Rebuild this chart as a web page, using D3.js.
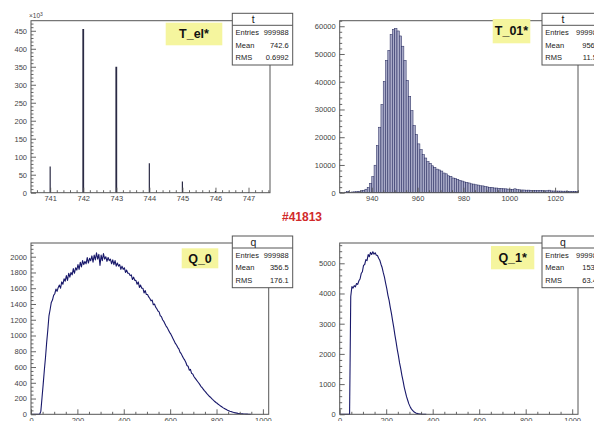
<!DOCTYPE html>
<html><head><meta charset="utf-8">
<script src="https://cdn.jsdelivr.net/npm/d3@7"></script>
<style>html,body{margin:0;padding:0;background:#fff;} svg{display:block;font-family:"Liberation Sans",Arial,Helvetica,sans-serif;}</style>
</head><body><svg id="c" width="594" height="421"></svg>
<script>
// ---------------- DATA ----------------
// Panel 1: T_el* (counts per bin)
const tElCats = [741, 742, 743, 744, 745, 746, 747];
const tElCounts = [73000, 455000, 350000, 82000, 31000, 5000, 1500];

// Panel 2: T_01* (bin width 1, first bin 926)
const t01Start = 926;
const t01Counts = [120,0,180,420,150,260,310,380,520,690,
  880,1250,1900,3300,5800,9900,17000,23600,31800,40100,
  47700,51300,57000,58800,59200,58300,56500,52800,47700,40500,
  34700,29600,24200,21000,17600,15500,13700,12500,11200,10600,
  9700,9100,8500,8200,7800,7100,6800,6100,5900,5300,
  5100,4800,4400,4200,3900,3700,3500,3200,3100,2850,
  2750,2500,2450,2200,2100,1950,1880,1700,1680,1560,
  1520,1420,1400,1300,1250,1180,1400,1080,1050,980,
  960,900,920,850,840,790,800,740,730,690,
  710,900,650,620,600,580,580,540,550,510,
  520,480,500,470];

// Panel 3: Q_0 (bin width 5, first bin 0)
const q0Counts = [0,0,0,0,0,0,0,0,
  40,210,380,560,720,910,1070,1250,
  1330,1420,1450,1510,1530,1590,1560,1610,
  1640,1600,1680,1650,1720,1690,1760,1700,
  1790,1740,1800,1770,1850,1790,1860,1830,
  1900,1840,1930,1870,1950,1900,1940,1910,
  1990,1920,1980,1950,2010,1930,2020,1960,
  2050,1970,2030,1890,2020,1950,2040,1970,
  2000,1940,1990,1950,1970,1910,1960,1900,
  1950,1880,1920,1880,1900,1840,1880,1840,
  1860,1800,1830,1790,1790,1760,1770,1710,
  1740,1700,1700,1650,1680,1610,1640,1600,
  1600,1540,1570,1520,1520,1490,1470,1440,
  1450,1390,1400,1360,1340,1310,1300,1250,
  1240,1200,1180,1150,1120,1100,1070,1040,
  1020,990,960,930,900,880,850,830,
  790,770,740,710,690,660,620,610,
  560,570,520,510,480,460,440,420,
  400,380,355,340,320,300,285,265,
  250,232,220,205,190,176,162,150,
  140,127,116,105,95,85,76,68,
  60,52,46,40,35,30,25,21,
  18,15,12,10,8,6,5,4,
  3,2,2,1,1,0];

// Panel 4: Q_1* (bin width 5, first bin 0)
const q1Counts = [0,0,0,0,0,0,0,0,0,
  3900,4230,4180,4260,4220,4330,4300,4420,4480,4660,
  4720,4930,4960,5120,5090,5290,5220,5360,5290,5380,
  5300,5350,5270,5260,5170,5100,4970,4860,4690,4540,
  4340,4160,3940,3770,3540,3340,3100,2880,2620,2400,
  2150,1940,1700,1510,1290,1110,900,745,585,465,
  345,262,188,136,94,66,44,30,20,13,
  8,5,3,2,1,0];

// Tick labels / text
const panelLabels = ["T_el*", "T_01*", "Q_0", "Q_1*"];
const statTitles = ["t", "t", "q", "q"];
const statNames = ["Entries", "Mean", "RMS"];
const statValues = [
  ["999988", "742.6", "0.6992"],
  ["999988", "956.2", "11.54"],
  ["999988", "356.5", "176.1"],
  ["999988", "153.2", "63.42"]
];
const runLabel = "#41813";

// ---------------- DRAWING ----------------
const svg = d3.select("#c");
const FONT = "'Liberation Sans',Arial,Helvetica,sans-serif";

function range(a, b, step) {
  const out = [];
  const s = Math.ceil(a / step - 1e-9);
  for (let k = s; k * step <= b + 1e-9; k++) out.push(+(k * step).toFixed(6));
  return out;
}

function panel(cfg, idx) {
  const g = svg.append("g");
  const x = d3.scaleLinear().domain(cfg.xd).range([cfg.l, cfg.r]);
  const y = d3.scaleLinear().domain([0, cfg.ymax]).range([cfg.b, cfg.t]);

  cfg.draw(g, x, y);

  const xMaj = range(cfg.xd[0], cfg.xd[1], cfg.xStep);
  const xMin = range(cfg.xd[0], cfg.xd[1], cfg.xMinor).filter(v => !xMaj.some(m => Math.abs(m - v) < 1e-6));
  const yMaj = range(0, cfg.ymax, cfg.yStep);
  const yMin = range(0, cfg.ymax, cfg.yMinor).filter(v => !yMaj.some(m => Math.abs(m - v) < 1e-6));

  const style = sel => {
    sel.select(".domain").remove();
    sel.selectAll("line").attr("stroke", "#555").attr("stroke-width", 0.9);
    sel.selectAll("text").attr("fill", "#444").attr("font-size", 7.5).attr("font-family", FONT);
  };

  g.append("g").attr("transform", `translate(0,${cfg.b})`)
    .call(d3.axisBottom(x).tickValues(xMaj).tickSize(-5).tickPadding(3).tickFormat(d3.format("d"))).call(style);
  g.append("g").attr("transform", `translate(0,${cfg.b})`)
    .call(d3.axisBottom(x).tickValues(xMin).tickSize(-2.5).tickFormat("")).call(style);
  g.append("g").attr("transform", `translate(${cfg.l},0)`)
    .call(d3.axisLeft(y).tickValues(yMaj).tickSize(-5).tickPadding(4).tickFormat(cfg.yFmt)).call(style);
  g.append("g").attr("transform", `translate(${cfg.l},0)`)
    .call(d3.axisLeft(y).tickValues(yMin).tickSize(-2.5).tickFormat("")).call(style);

  g.append("rect").attr("x", cfg.l).attr("y", cfg.t)
    .attr("width", cfg.r - cfg.l).attr("height", cfg.b - cfg.t)
    .attr("fill", "none").attr("stroke", "#555").attr("stroke-width", 1);

  const lb = cfg.label;
  g.append("rect").attr("x", lb[0]).attr("y", lb[1]).attr("width", lb[2]).attr("height", lb[3]).attr("fill", "#f5f59e");
  g.append("text").attr("x", lb[0] + lb[2] / 2).attr("y", lb[1] + lb[3] / 2 + 4.3)
    .attr("text-anchor", "middle").attr("font-weight", "bold").attr("font-size", 12.5)
    .attr("font-family", FONT).attr("fill", "#111").text(panelLabels[idx]);

  const sb = cfg.stats;
  const sg = g.append("g");
  sg.append("rect").attr("x", sb[0]).attr("y", sb[1]).attr("width", sb[2]).attr("height", 51.7)
    .attr("fill", "#fff").attr("stroke", "#555").attr("stroke-width", 1);
  sg.append("line").attr("x1", sb[0]).attr("x2", sb[0] + sb[2]).attr("y1", sb[1] + 12).attr("y2", sb[1] + 12)
    .attr("stroke", "#555").attr("stroke-width", 1);
  sg.append("text").attr("x", sb[0] + 21).attr("y", sb[1] + 9.8).attr("text-anchor", "middle")
    .attr("font-size", 10.5).attr("font-family", FONT).attr("fill", "#222").text(statTitles[idx]);
  statNames.forEach((n, k) => {
    const yy = sb[1] + 22 + k * 12.4;
    sg.append("text").attr("x", sb[0] + 3.3).attr("y", yy).attr("font-size", 7.5)
      .attr("font-family", FONT).attr("fill", "#222").text(n);
    sg.append("text").attr("x", sb[0] + sb[3]).attr("y", yy).attr("text-anchor", "end").attr("font-size", 7.5)
      .attr("font-family", FONT).attr("fill", "#222").text(statValues[idx][k]);
  });
}

function polyLine(g, x, y, counts, w) {
  const pts = counts.map((c, i) => [i * w + w / 2, c]);
  const line = d3.line().x(d => x(d[0])).y(d => y(d[1]));
  g.append("path").datum(pts).attr("d", line).attr("fill", "none")
    .attr("stroke", "#18186a").attr("stroke-width", 1.1).attr("stroke-linejoin", "round");
}

const panels = [
  { l: 31, r: 270, t: 20.7, b: 192.7, xd: [740.42, 747.65], ymax: 478000,
    xStep: 1, xMinor: 0.2, yStep: 50000, yMinor: 10000, yFmt: d => d3.format("d")(d / 1000),
    label: [165.7, 22.7, 56.6, 22.6], stats: [232.3, 13.3, 60.4, 56.4],
    draw: (g, x, y) => {
      g.selectAll("line.sp").data(tElCats).join("line").attr("class", "sp")
        .attr("x1", d => x(d)).attr("x2", d => x(d))
        .attr("y1", y(0)).attr("y2", (d, i) => y(tElCounts[i]))
        .attr("stroke", "#2a2a44").attr("stroke-width", (d, i) => tElCounts[i] > 200000 ? 1.8 : 1.2);
    } },
  { l: 339.7, r: 578, t: 20.7, b: 192.7, xd: [926, 1030], ymax: 62000,
    xStep: 20, xMinor: 5, yStep: 10000, yMinor: 2000, yFmt: d3.format("d"),
    label: [492.7, 19, 37.6, 24.3], stats: [542, 13.3, 62, 59],
    draw: (g, x, y) => {
      g.selectAll("rect.bar").data(t01Counts).join("rect").attr("class", "bar")
        .attr("x", (d, i) => x(t01Start + i)).attr("width", (d, i) => x(t01Start + i + 1) - x(t01Start + i))
        .attr("y", d => y(d)).attr("height", d => y(0) - y(d))
        .attr("fill", "#a9abc8").attr("stroke", "#2a2e62").attr("stroke-width", 0.55);
    } },
  { l: 31, r: 268.7, t: 243, b: 414.3, xd: [0, 1025], ymax: 2174,
    xStep: 200, xMinor: 50, yStep: 200, yMinor: 50, yFmt: d3.format("d"),
    label: [181.7, 248.3, 36.6, 20], stats: [232.3, 236, 60.4, 56.4],
    draw: (g, x, y) => polyLine(g, x, y, q0Counts, 5) },
  { l: 339.7, r: 578, t: 243, b: 414.3, xd: [0, 1025], ymax: 5672,
    xStep: 200, xMinor: 50, yStep: 1000, yMinor: 200, yFmt: d3.format("d"),
    label: [491, 246, 43.3, 23.3], stats: [542, 236, 62, 59],
    draw: (g, x, y) => polyLine(g, x, y, q1Counts, 5) }
];

panels.forEach((p, i) => panel(p, i));

const ex = svg.append("text").attr("x", 29).attr("y", 18).attr("font-size", 6.5)
  .attr("font-family", FONT).attr("fill", "#444");
ex.append("tspan").text("\u00d710");
ex.append("tspan").attr("dy", -2.5).attr("font-size", 5).text("3");

svg.append("text").attr("x", 302).attr("y", 221).attr("text-anchor", "middle")
  .attr("font-size", 12).attr("font-weight", "bold").attr("font-family", FONT)
  .attr("fill", "#d12a2a").text(runLabel);
</script></body></html>
